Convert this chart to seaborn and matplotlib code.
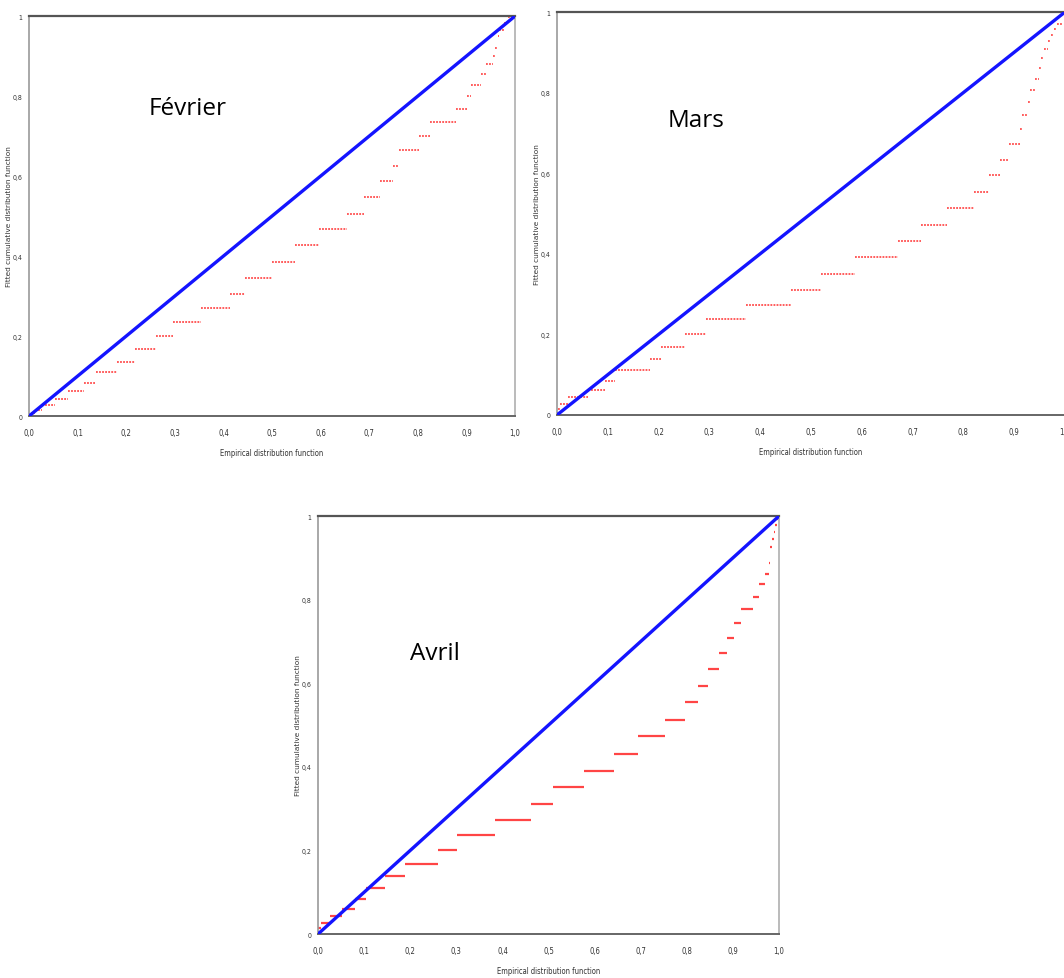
import matplotlib
matplotlib.use("Agg")
import matplotlib.pyplot as plt
import seaborn as sns
import pandas as pd

sns.set_style("white")
plt.rcParams['font.family'] = ['DejaVu Sans']

# reference line (fitted = empirical)
diag = [0.0, 1.0]

# Février : step levels and x extents
fev_y = [0.008, 0.015, 0.027, 0.0435, 0.062, 0.083, 0.109, 0.136, 0.167, 0.199,
         0.234, 0.269, 0.306, 0.346, 0.386, 0.427, 0.467, 0.506, 0.548, 0.588,
         0.625, 0.665, 0.700, 0.735, 0.767, 0.800, 0.828, 0.856, 0.879, 0.900,
         0.921, 0.951, 0.966, 0.982, 0.997]
fev_x0 = [0.003, 0.013, 0.027, 0.053, 0.080, 0.114, 0.137, 0.180, 0.218, 0.261,
          0.296, 0.353, 0.414, 0.445, 0.499, 0.548, 0.597, 0.654, 0.689, 0.722,
          0.749, 0.761, 0.802, 0.824, 0.879, 0.901, 0.910, 0.930, 0.940, 0.955,
          0.958, 0.965, 0.967, 0.978, 0.986]
fev_x1 = [0.013, 0.027, 0.053, 0.080, 0.114, 0.137, 0.180, 0.218, 0.261, 0.296,
          0.353, 0.414, 0.445, 0.499, 0.548, 0.597, 0.654, 0.689, 0.722, 0.749,
          0.761, 0.802, 0.824, 0.879, 0.901, 0.910, 0.930, 0.940, 0.955, 0.958,
          0.965, 0.967, 0.978, 0.986, 1.000]

# Mars
mars_y = [0.015, 0.027, 0.044, 0.062, 0.085, 0.111, 0.139, 0.169, 0.202, 0.237,
          0.274, 0.311, 0.350, 0.391, 0.432, 0.471, 0.514, 0.553, 0.595, 0.632,
          0.672, 0.709, 0.744, 0.776, 0.807, 0.835, 0.862, 0.886, 0.909, 0.928,
          0.944, 0.959, 0.971]
mars_x0 = [0.001, 0.006, 0.021, 0.062, 0.095, 0.115, 0.183, 0.204, 0.251, 0.293,
           0.372, 0.460, 0.519, 0.587, 0.672, 0.716, 0.768, 0.820, 0.851, 0.873,
           0.890, 0.912, 0.916, 0.928, 0.931, 0.941, 0.949, 0.952, 0.958, 0.967,
           0.972, 0.979, 0.984]
mars_x1 = [0.008, 0.021, 0.062, 0.095, 0.115, 0.183, 0.204, 0.251, 0.293, 0.372,
           0.460, 0.519, 0.587, 0.672, 0.716, 0.768, 0.820, 0.851, 0.873, 0.890,
           0.912, 0.916, 0.928, 0.931, 0.941, 0.949, 0.952, 0.958, 0.967, 0.972,
           0.979, 0.984, 0.994]

# Avril
avr_y = [0.015, 0.026, 0.043, 0.061, 0.085, 0.111, 0.138, 0.168, 0.202, 0.236,
         0.274, 0.311, 0.351, 0.390, 0.431, 0.474, 0.513, 0.555, 0.594, 0.634,
         0.672, 0.709, 0.744, 0.777, 0.806, 0.837, 0.862, 0.888, 0.910, 0.927,
         0.944, 0.962, 0.978, 0.994]
avr_x0 = [0.000, 0.007, 0.025, 0.052, 0.081, 0.105, 0.146, 0.189, 0.261, 0.301,
          0.383, 0.462, 0.510, 0.577, 0.643, 0.693, 0.753, 0.795, 0.825, 0.846,
          0.869, 0.886, 0.902, 0.918, 0.944, 0.957, 0.969, 0.978, 0.980, 0.981,
          0.984, 0.988, 0.991, 0.995]
avr_x1 = [0.007, 0.025, 0.052, 0.081, 0.105, 0.146, 0.189, 0.261, 0.301, 0.383,
          0.462, 0.510, 0.577, 0.643, 0.693, 0.753, 0.795, 0.825, 0.846, 0.869,
          0.886, 0.902, 0.918, 0.944, 0.957, 0.969, 0.978, 0.980, 0.981, 0.984,
          0.988, 0.991, 0.995, 1.000]

x_ticks = [0.0, 0.1, 0.2, 0.3, 0.4, 0.5, 0.6, 0.7, 0.8, 0.9, 1.0]
x_tick_labels = ['0,0', '0,1', '0,2', '0,3', '0,4', '0,5', '0,6', '0,7', '0,8', '0,9', '1,0']
y_ticks = [0.0, 0.2, 0.4, 0.6, 0.8, 1.0]
y_tick_labels = ['0', '0,2', '0,4', '0,6', '0,8', '1']

NARROW = ['Liberation Sans Narrow', 'DejaVu Sans']


def draw_panel(ax, title, title_xy, ys, x0s, x1s, dotted, ylabel_x):
    """One P-P panel: diagonal + red step segments."""
    steps = pd.DataFrame({'y': ys, 'x0': x0s, 'x1': x1s})

    if dotted:
        ax.hlines(steps['y'], steps['x0'], steps['x1'], colors='#ff3030',
                  linewidth=1.1, linestyles=(0, (1.2, 0.8)), zorder=2)
    else:
        ax.hlines(steps['y'], steps['x0'], steps['x1'], colors='#ff4545',
                  linewidth=1.6, zorder=2)

    sns.lineplot(x=diag, y=diag, ax=ax, color='#1414ff', linewidth=2.4, zorder=3)

    ax.set_xlim(0, 1)
    ax.set_ylim(0, 1)
    ax.set_xticks(x_ticks)
    ax.set_xticklabels(x_tick_labels, family=NARROW, fontsize=5.5, color='#333333',
                       fontstretch='condensed')
    ax.set_yticks(y_ticks)
    ax.set_yticklabels(y_tick_labels, family=NARROW, fontsize=5, color='#333333',
                       fontstretch='condensed')
    ax.tick_params(axis='x', direction='inout', length=5, width=0.8, color='#444444', pad=6)
    ax.tick_params(axis='y', direction='out', length=3, width=0.8, color='#444444', pad=1.5)

    ax.set_xlabel('Empirical distribution function', family=NARROW, fontsize=5.5,
                  color='#333333', labelpad=8, fontstretch='condensed')
    ax.set_ylabel('Fitted cumulative distribution function', fontsize=5.3,
                  color='#333333')
    ax.yaxis.set_label_coords(ylabel_x, 0.5)

    # frame: dark top, grey left/bottom, light right
    ax.spines['top'].set_color('#555555')
    ax.spines['top'].set_linewidth(1.6)
    ax.spines['bottom'].set_color('#666666')
    ax.spines['bottom'].set_linewidth(1.4)
    ax.spines['left'].set_color('#999999')
    ax.spines['left'].set_linewidth(1.2)
    ax.spines['right'].set_color('#bbbbbb')
    ax.spines['right'].set_linewidth(1.4)

    ax.text(title_xy[0], title_xy[1], title, fontsize=17.5, family=['Open Sans', 'DejaVu Sans'],
            ha='left', va='center', color='black')


fig = plt.figure(figsize=(10.64, 9.79), dpi=100)

# ylabel x offsets: about 17-18 px left of each axis
ax1 = fig.add_axes([0.0273, 0.574, 0.4568, 0.4086])
draw_panel(ax1, 'Février', (0.247, 0.77), fev_y, fev_x0, fev_x1, dotted=True,
           ylabel_x=-17.5 / 486)

ax2 = fig.add_axes([0.5235, 0.5751, 0.4774, 0.4116])
draw_panel(ax2, 'Mars', (0.218, 0.732), mars_y, mars_x0, mars_x1, dotted=True,
           ylabel_x=-17.5 / 508)

ax3 = fig.add_axes([0.2989, 0.0449, 0.4333, 0.427])
draw_panel(ax3, 'Avril', (0.20, 0.672), avr_y, avr_x0, avr_x1, dotted=False,
           ylabel_x=-17.5 / 461)

fig.savefig('out.png', dpi=100)
plt.close(fig)
